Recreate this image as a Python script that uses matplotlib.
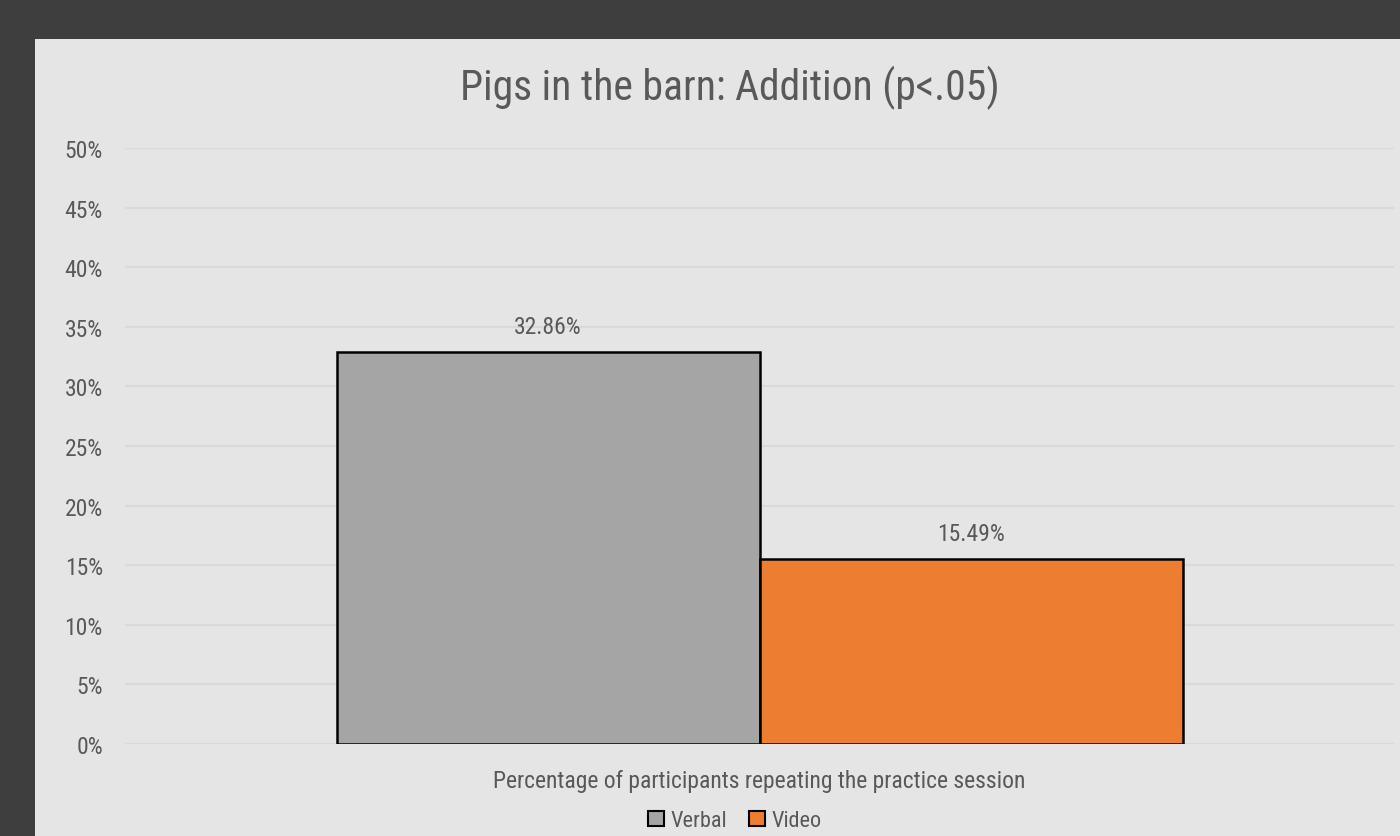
import matplotlib
matplotlib.use('Agg')
import matplotlib.pyplot as plt
import matplotlib.patches as mpatches
from matplotlib.ticker import PercentFormatter

# data
series = ['Verbal', 'Video']
values = [0.3286, 0.1549]
colors = ['#a5a5a5', '#ed7d31']
yticks = [0.0, 0.05, 0.10, 0.15, 0.20, 0.25, 0.30, 0.35, 0.40, 0.45, 0.50]
title = 'Pigs in the barn: Addition (p<.05)'
xlabel = 'Percentage of participants repeating the practice session'

plt.rcParams['font.family'] = ['Roboto Condensed', 'Roboto', 'DejaVu Sans']
text_col = '#595959'

W, H = 1400, 837
fig = plt.figure(figsize=(W / 100, H / 100), dpi=100)
fig.patch.set_facecolor('#3e3e3e')

# light chart panel over the dark board
panel = mpatches.Rectangle((35 / W, 0), 1 - 35 / W, (H - 40) / H,
                           transform=fig.transFigure, facecolor='#e5e5e5',
                           edgecolor='none', zorder=-5)
fig.patches.append(panel)

ax = fig.add_axes([125 / W, (H - 745) / H, (1394 - 125) / W, (745 - 149) / H])
ax.set_facecolor('none')
ax.set_zorder(2)

w = 1 / 3
xs = [-w / 2, w / 2]
for x, v, c in zip(xs, values, colors):
    ax.bar(x, v, width=w, color=c, edgecolor='black', linewidth=1.8, zorder=3)
    ax.text(x, v + 0.012, f'{v * 100:.2f}%', ha='center', va='bottom',
            fontsize=17, color=text_col)

ax.set_xlim(-0.5, 0.5)
ax.set_ylim(0, 0.5)
ax.set_yticks(yticks)
ax.yaxis.set_major_formatter(PercentFormatter(1.0, decimals=0))
ax.tick_params(axis='y', length=0, pad=16, labelsize=17, labelcolor=text_col)
ax.set_xticks([])
ax.grid(axis='y', color='#d9d9d9', linewidth=1.5, zorder=0)
ax.set_axisbelow(True)
for s in ax.spines.values():
    s.set_visible(False)

ax.set_xlabel(xlabel, fontsize=17, color=text_col, labelpad=18)
fig.text(0.521, (H - 88) / H, title, ha='center', va='center',
         fontsize=30, color=text_col, zorder=3)

handles = [mpatches.Patch(facecolor=c, edgecolor='black', linewidth=1.5, label=s)
           for s, c in zip(series, colors)]
fig.legend(handles=handles, loc='center', bbox_to_anchor=(0.525, 0.018),
           ncol=2, frameon=False, fontsize=16, labelcolor=text_col,
           handlelength=0.7, handleheight=0.7, handletextpad=0.3,
           columnspacing=1.0)

fig.savefig('out.png', dpi=100, facecolor=fig.get_facecolor())
